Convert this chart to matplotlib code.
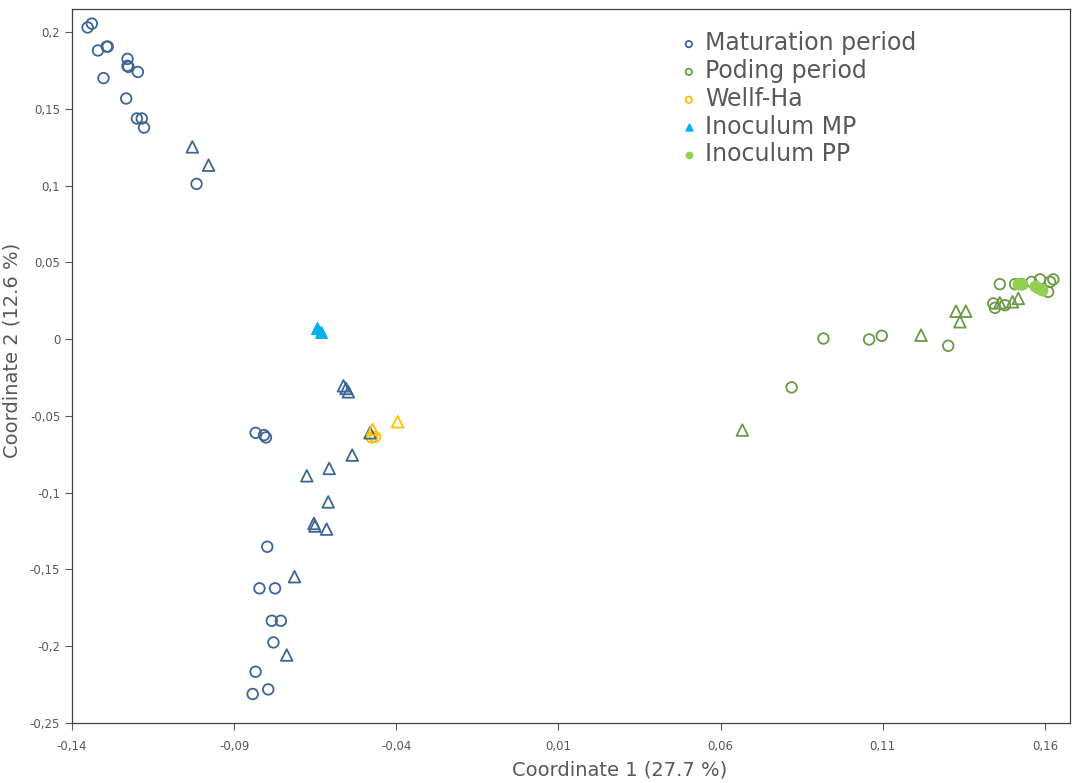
import numpy as np
import matplotlib.pyplot as plt
from matplotlib.ticker import FuncFormatter

# Maturation period (circles + triangles)
mat_circ_x = [-0.1352, -0.1339, -0.1320, -0.1293, -0.1290, -0.1303, -0.1229, -0.1229, -0.1226,
              -0.1197, -0.1233, -0.1200, -0.1185, -0.1178, -0.1016,
              -0.0834, -0.0808, -0.0802, -0.0798, -0.0822, -0.0774, -0.0784, -0.0756,
              -0.0779, -0.0834, -0.0795, -0.0843]
mat_circ_y = [0.2030, 0.2055, 0.1880, 0.1905, 0.1905, 0.1700, 0.1825, 0.1780, 0.1773,
              0.1740, 0.1567, 0.1437, 0.1437, 0.1378, 0.1011,
              -0.0610, -0.0625, -0.0640, -0.1352, -0.1623, -0.1623, -0.1834, -0.1834,
              -0.1975, -0.2166, -0.2281, -0.2311]
mat_tri_x = [-0.1029, -0.0979, -0.0563, -0.0555, -0.0548, -0.0481, -0.0536, -0.0607, -0.0676,
             -0.0610, -0.0654, -0.0651, -0.0615, -0.0714, -0.0738]
mat_tri_y = [0.1252, 0.1133, -0.0304, -0.0321, -0.0343, -0.0610, -0.0755, -0.0842, -0.0890,
             -0.1060, -0.1200, -0.1217, -0.1237, -0.1547, -0.2057]

# Poding period
pod_circ_x = [0.0917, 0.1058, 0.1097, 0.1302, 0.0819, 0.1461, 0.1441, 0.1446, 0.1477,
              0.1508, 0.1528, 0.1559, 0.1585, 0.1616, 0.1626, 0.1610]
pod_circ_y = [0.0004, -0.0002, 0.0022, -0.0043, -0.0314, 0.0358, 0.0232, 0.0204, 0.0221,
              0.0358, 0.0358, 0.0373, 0.0389, 0.0373, 0.0389, 0.0308]
pod_tri_x = [0.0667, 0.1218, 0.1326, 0.1356, 0.1338, 0.1461, 0.1500, 0.1518]
pod_tri_y = [-0.0592, 0.0026, 0.0182, 0.0182, 0.0113, 0.0237, 0.0243, 0.0265]

# Wellf-Ha
wel_circ_x = [-0.0476, -0.0466]
wel_circ_y = [-0.0640, -0.0636]
wel_tri_x = [-0.0473, -0.0396]
wel_tri_y = [-0.0588, -0.0538]

# Inocula
inmp_x = [-0.0646, -0.0633]
inmp_y = [0.0070, 0.0048]
inpp_x = [0.1518, 0.1529, 0.1569, 0.1580, 0.1590]
inpp_y = [0.0358, 0.0358, 0.0345, 0.0336, 0.0323]

c_mat = '#3e6594'
c_pod = '#6a9a45'
c_wel = '#ffc000'
c_imp = '#00b0f0'
c_ipp = '#92d050'
grey = '#595959'

fig = plt.figure(figsize=(10.72, 7.83), dpi=100)
ax = fig.add_axes([0.0672, 0.0766, 0.9308, 0.9119])

s_c = 58
s_t = 70
lw = 1.3
ax.scatter(mat_circ_x, mat_circ_y, s=s_c, facecolors='none', edgecolors=c_mat, linewidths=lw, label='Maturation period')
ax.scatter(pod_circ_x, pod_circ_y, s=s_c, facecolors='none', edgecolors=c_pod, linewidths=lw, label='Poding period')
ax.scatter(wel_circ_x, wel_circ_y, s=s_c, facecolors='none', edgecolors=c_wel, linewidths=lw, label='Wellf-Ha')
ax.scatter(mat_tri_x, mat_tri_y, s=s_t, marker='^', facecolors='none', edgecolors=c_mat, linewidths=lw)
ax.scatter(pod_tri_x, pod_tri_y, s=s_t, marker='^', facecolors='none', edgecolors=c_pod, linewidths=lw)
ax.scatter(wel_tri_x, wel_tri_y, s=s_t, marker='^', facecolors='none', edgecolors=c_wel, linewidths=lw)
ax.scatter(inmp_x, inmp_y, s=s_t, marker='^', color=c_imp, label='Inoculum MP')
ax.scatter(inpp_x, inpp_y, s=s_c, marker='o', color=c_ipp, label='Inoculum PP')

ax.set_xlim(-0.14, 0.1677)
ax.set_ylim(-0.25, 0.215)
ax.set_xticks(np.arange(-0.14, 0.161, 0.05))
ax.set_yticks(np.arange(-0.25, 0.201, 0.05))

def fmt(v, pos):
    v = round(v, 2)
    if v == 0:
        return '0'
    return ('%g' % v).replace('.', ',')

ax.xaxis.set_major_formatter(FuncFormatter(fmt))
ax.yaxis.set_major_formatter(FuncFormatter(fmt))
ax.tick_params(labelsize=8.5, colors=grey, length=5, width=0.8)
ax.tick_params(axis='x', pad=7)
for sp in ax.spines.values():
    sp.set_color('#404040')
    sp.set_linewidth(0.9)

ax.set_xlabel('Coordinate 1 (27.7 %)', fontsize=14, color=grey)
ax.set_ylabel('Coordinate 2 (12.6 %)', fontsize=14, color=grey)
ax.xaxis.set_label_coords(0.549, -0.052)
ax.yaxis.set_label_coords(-0.051, 0.522)

leg = ax.legend(loc='upper left', bbox_to_anchor=(0.598, 0.982), frameon=False, fontsize=17,
                markerscale=0.6, handlelength=0.9, handletextpad=0.25, labelspacing=0.16,
                borderaxespad=0.0)
for t in leg.get_texts():
    t.set_color(grey)

fig.savefig('out.png', dpi=100)
